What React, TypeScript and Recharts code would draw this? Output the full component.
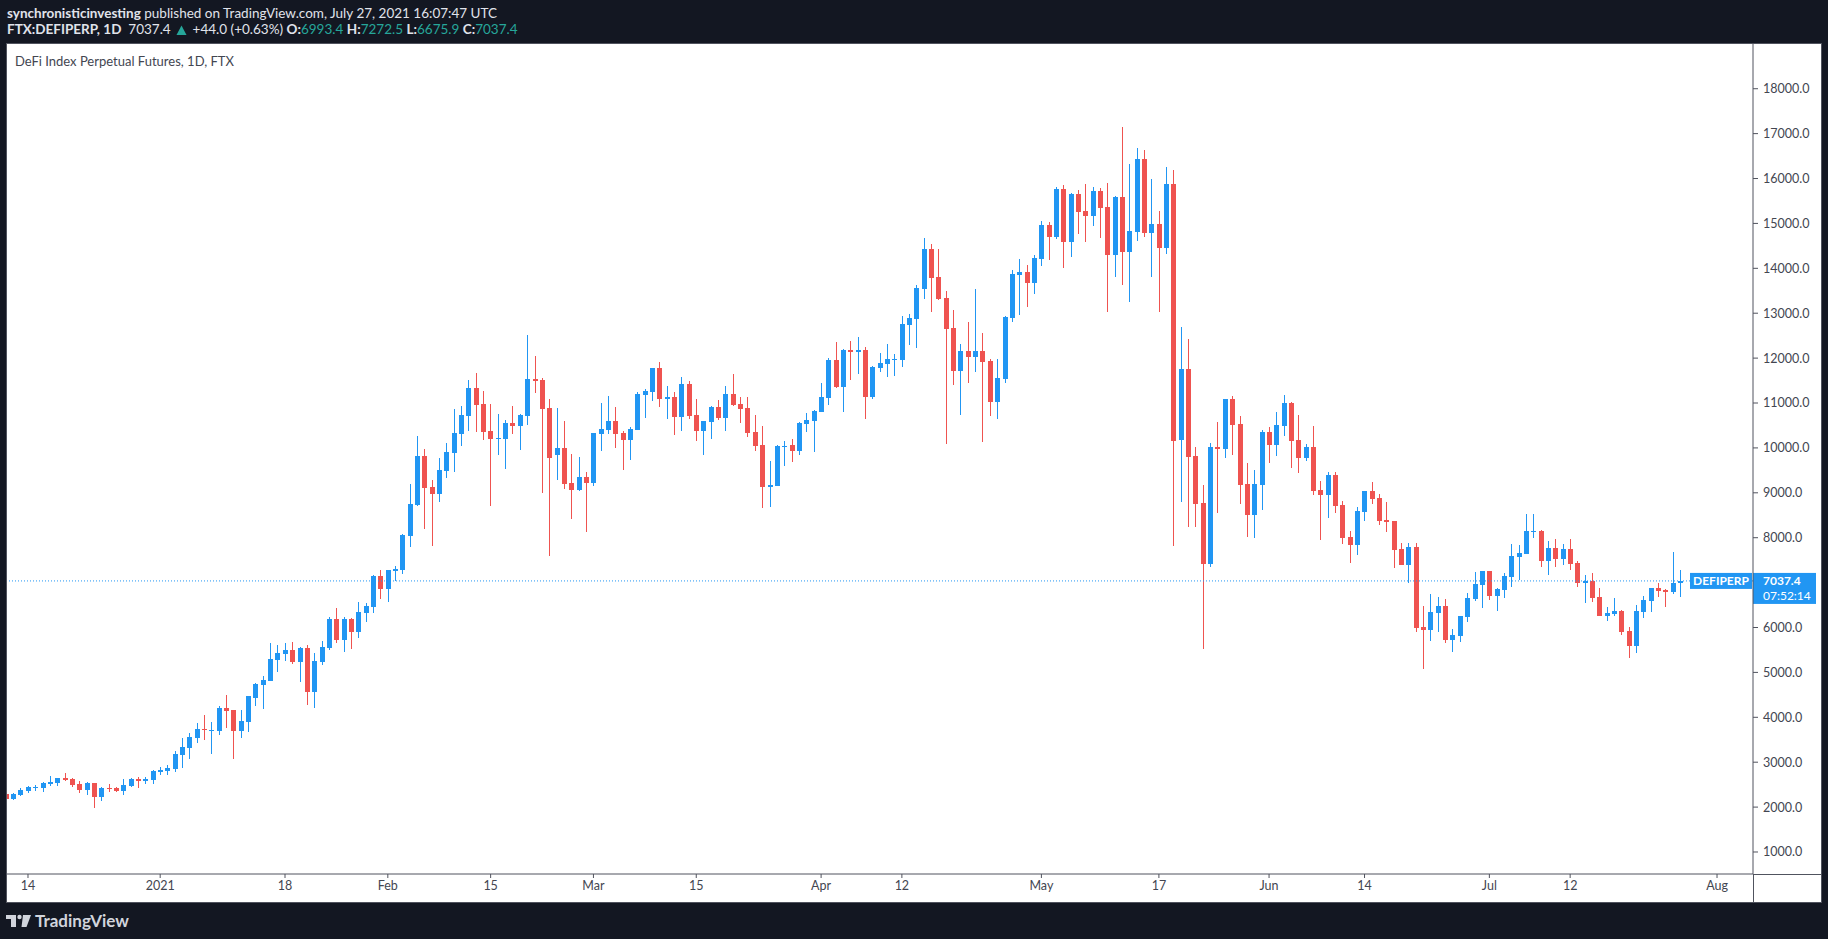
import React from "react";
import { ComposedChart, Bar, XAxis, YAxis, ReferenceLine } from "recharts";

// daily candles, first entry is Dec 11 2020, last is Jul 27 2021
const opens = [
  2290, 2188, 2269, 2358, 2425, 2425, 2521, 2544, 2648, 2626, 2514, 2380, 2536, 2225, 2425, 2425, 2358, 2470, 2626, 2581,
  2603, 2782, 2804, 2848, 3160, 3316, 3539, 3739, 3695, 3695, 4207, 4162, 3695, 3895, 4429, 4719, 4808, 5276, 5409, 5498,
  5231, 5543, 4563, 5231, 5543, 6189, 5721, 6189, 5899, 6323, 6456, 7147, 6857, 7258, 7280, 8037, 8727, 9819, 9128, 8972,
  9485, 9885, 10309, 10709, 11333, 10977, 10375, 10197, 10197, 10554, 10487, 10710, 11533, 11511, 10888, 9841, 9997, 9217, 9062, 9351,
  9217, 10309, 10398, 10598, 10331, 10175, 10398, 11177, 11244, 11778, 11088, 11133, 10687, 11422, 10732, 10375, 10576, 10910, 10665, 11199,
  10977, 10888, 10353, 10063, 9128, 9150, 10019, 10063, 9930, 10531, 10598, 10799, 11110, 11957, 11355, 12179, 12135, 12179, 11133, 11778,
  11868, 11957, 11957, 12736, 12870, 13538, 14429, 13805, 13337, 12669, 11712, 12157, 12024, 12157, 11934, 11021, 11534, 12892, 13850, 13917,
  13672, 14205, 14963, 14697, 15768, 14588, 15658, 15275, 15166, 15721, 15361, 14299, 15588, 14361, 14807, 16431, 14783, 14986, 14455, 15877,
  10175, 11760, 9823, 8777, 7418, 10019, 9980, 11089, 10534, 9198, 8503, 9175, 10355, 10066, 10488, 11003, 10175, 9774, 10019, 9061,
  8950, 9395, 8727, 8014, 7836, 8571, 9039, 8883, 8393, 8371, 7747, 7391, 7792, 6010, 5943, 6322, 6478, 5720, 5810, 6233,
  6634, 6945, 7257, 6700, 6834, 7124, 7569, 7636, 8126, 8148, 7480, 7777, 7532, 7748, 7443, 6998, 7035, 6679, 6263, 6300,
  6367, 5921, 5595, 6352, 6597, 6879, 6842, 6797, 6993.4,
];
const highs = [
  2320, 2314, 2418, 2469, 2492, 2559, 2692, 2655, 2759, 2648, 2581, 2559, 2545, 2447, 2514, 2447, 2626, 2648, 2670, 2670,
  2826, 2893, 2937, 3249, 3539, 3650, 3873, 4051, 3895, 4251, 4496, 4170, 4162, 4480, 4763, 4919, 5654, 5610, 5654, 5677,
  5565, 5610, 5432, 5699, 6234, 6434, 6234, 6211, 6568, 6545, 7160, 7280, 7290, 7369, 8080, 9195, 10264, 9975, 9284, 9774,
  10108, 10865, 10932, 11511, 11667, 11266, 10977, 10754, 10620, 10932, 10754, 12513, 12046, 11556, 11088, 10888, 10598, 9863, 9796, 9462,
  10340, 10999, 11155, 10910, 10375, 10465, 11244, 11311, 11790, 11912, 11378, 11244, 11578, 11489, 11088, 10600, 10932, 11066, 11378, 11645,
  11133, 11133, 10732, 10487, 9707, 10063, 10153, 10197, 10576, 10776, 10843, 11444, 12001, 12357, 12202, 12380, 12469, 12246, 11823, 12113,
  12313, 12090, 12937, 12981, 13627, 14674, 14540, 14429, 13493, 13070, 12313, 12803, 13538, 12558, 11979, 11979, 12937, 13961, 14206, 14073,
  14295, 15057, 15033, 15814, 15861, 15682, 15744, 15885, 15814, 15791, 15908, 15600, 17150, 16322, 16681, 16635, 15986, 15275, 16252, 16189,
  12690, 12424, 10019, 9175, 10112, 10581, 11100, 11159, 10714, 9667, 9511, 10401, 10464, 10800, 11183, 11026, 10732, 10086, 10487, 9262,
  9462, 9462, 8816, 8148, 8683, 9050, 9239, 8972, 8794, 8380, 7881, 7881, 7881, 6478, 6745, 6678, 6634, 5965, 6265, 6767,
  7235, 7265, 7265, 6879, 7213, 7858, 7836, 8527, 8527, 8170, 7933, 7978, 7866, 7978, 7480, 7168, 7220, 6879, 6456, 6656,
  6389, 6010, 6500, 6701, 6885, 6990, 6864, 7681, 7272.5,
];
const lows = [
  2170, 2165, 2247, 2321, 2358, 2336, 2469, 2469, 2581, 2455, 2314, 2269, 1980, 2135, 2336, 2336, 2269, 2447, 2425, 2514,
  2514, 2715, 2715, 2781, 2870, 3071, 3427, 3494, 3182, 3605, 3761, 3071, 3539, 3672, 4251, 4185, 4800, 5009, 5253, 5187,
  4786, 4274, 4207, 5164, 5498, 5654, 5454, 5521, 5766, 6122, 6323, 6634, 6568, 7035, 7190, 7792, 8705, 8193, 7814, 8794,
  9329, 9462, 10041, 10375, 10353, 10175, 8705, 9841, 9529, 10309, 9952, 10509, 11222, 8995, 7592, 9284, 9084, 8416, 9039, 8126,
  9150, 9930, 10309, 9997, 9507, 9730, 10390, 10665, 11066, 10910, 10643, 10286, 10375, 10643, 10153, 9841, 10197, 10620, 10375, 10932,
  10554, 10242, 9930, 8660, 8683, 9140, 9596, 9685, 9841, 10353, 9908, 10790, 10954, 11333, 10799, 11511, 11645, 10643, 11088, 11689,
  11578, 11600, 11801, 12291, 12224, 13315, 13026, 13293, 10086, 11400, 10732, 11444, 11689, 10130, 10709, 10643, 11444, 12803, 12959, 13137,
  13426, 14049, 14182, 14651, 14010, 14252, 14760, 14588, 14940, 14674, 13026, 13807, 13627, 13252, 14612, 14697, 13807, 13026, 14322, 7816,
  8792, 8238, 8238, 5520, 7347, 8558, 9777, 9839, 8753, 8019, 7995, 8620, 9667, 9823, 10269, 9558, 9440, 9707, 8950, 7947,
  8437, 8549, 7858, 7435, 7613, 8371, 8750, 8282, 8126, 7324, 7380, 6990, 5899, 5074, 5698, 5899, 5654, 5453, 5676, 6121,
  6589, 6433, 6611, 6366, 6656, 6901, 7057, 7630, 7992, 7346, 7176, 7354, 7391, 7287, 6909, 6552, 6575, 6255, 6152, 6263,
  5832, 5327, 5439, 6218, 6352, 6686, 6463, 6753, 6675.9,
];
const closes = [
  2190, 2291, 2380, 2447, 2447, 2536, 2566, 2648, 2603, 2492, 2380, 2536, 2225, 2425, 2403, 2358, 2492, 2626, 2581, 2626,
  2804, 2826, 2871, 3182, 3338, 3561, 3739, 3717, 3717, 4207, 4140, 3695, 3917, 4474, 4741, 4830, 5298, 5432, 5498, 5231,
  5543, 4563, 5253, 5565, 6189, 5721, 6189, 5899, 6345, 6478, 7147, 6857, 7280, 7303, 8059, 8750, 9819, 9106, 8972, 9507,
  9908, 10331, 10732, 11333, 10954, 10353, 10197, 10219, 10554, 10487, 10732, 11533, 11489, 10865, 9774, 9997, 9195, 9062, 9351, 9217,
  10331, 10420, 10598, 10309, 10175, 10420, 11199, 11266, 11778, 11088, 11133, 10687, 11422, 10710, 10375, 10598, 10910, 10665, 11199, 10954,
  10865, 10331, 10041, 9128, 9173, 10041, 10041, 9930, 10554, 10620, 10821, 11133, 11957, 11355, 12179, 12135, 12179, 11133, 11801, 11890,
  11979, 11979, 12758, 12892, 13560, 14429, 13783, 13315, 12647, 11712, 12157, 12024, 12157, 11912, 11021, 11556, 12914, 13872, 13917, 13672,
  14228, 14963, 14697, 15768, 14588, 15658, 15252, 15166, 15721, 15346, 14299, 15588, 14361, 14830, 16431, 14783, 14986, 14455, 15877, 10151,
  11760, 9800, 8753, 7418, 10019, 9980, 11089, 10511, 9175, 8503, 9198, 10355, 10066, 10511, 11003, 10159, 9774, 10019, 9039, 8950,
  9395, 8705, 7992, 7836, 8594, 9039, 8861, 8371, 8349, 7725, 7391, 7792, 5988, 5943, 6344, 6478, 5720, 5832, 6255, 6656,
  6968, 7257, 6700, 6856, 7146, 7591, 7658, 8148, 8148, 7480, 7777, 7532, 7748, 7421, 6998, 7035, 6664, 6263, 6322, 6367,
  5899, 5595, 6367, 6612, 6879, 6820, 6797, 6998, 7037.4,
];

// day index of each date label (Dec 11 2020 = 0)
const tickDays = [3, 21, 38, 52, 66, 80, 94, 111, 122, 141, 157, 172, 185, 202, 213, 233];
const tickLabels = ["14", "2021", "18", "Feb", "15", "Mar", "15", "Apr", "12", "May", "17", "Jun", "14", "Jul", "12", "Aug"];
const priceTicks = [1000, 2000, 3000, 4000, 5000, 6000, 8000, 9000, 10000, 11000, 12000, 13000, 14000, 15000, 16000, 17000, 18000];

const lastPrice = 7037.4;

const UP = "#2196F3";
const DOWN = "#EF5350";
const GREEN = "#26A69A";
const AXIS = "#50535E";
const FONT = "Lato, 'Liberation Sans', sans-serif";

const candles = opens.map((open, i) => ({
  day: i,
  open,
  high: highs[i],
  low: lows[i],
  close: closes[i],
  range: [lows[i], highs[i]],
}));

const Candle = (props: any) => {
  const { x, y, width, height, payload } = props;
  const { open, close, high, low } = payload;
  const color = close >= open ? UP : DOWN;
  const span = high - low || 1;
  const py = (p: number) => y + ((high - p) / span) * height;
  const cx = Math.round(x + width / 2);
  const top = Math.round(py(Math.max(open, close)));
  const bot = Math.round(py(Math.min(open, close)));
  return (
    <g>
      <rect x={cx} y={Math.round(y)} width={1} height={Math.max(1, Math.round(height))} fill={color} />
      <rect x={cx - 2} y={top} width={5} height={Math.max(1, bot - top)} fill={color} />
    </g>
  );
};

const PriceTag = (props: any) => {
  const { viewBox } = props;
  const right = viewBox.x + viewBox.width;
  const yy = viewBox.y;
  return (
    <g fontFamily={FONT} fontWeight={700} fontSize={12} fill="#fff">
      <rect x={right - 63} y={yy - 8} width={62} height={16} fill={UP} />
      <text x={right - 32} y={yy + 4} textAnchor="middle">DEFIPERP</text>
      <rect x={right} y={yy - 8} width={63} height={31} fill={UP} />
      <text x={right + 10} y={yy + 4}>{lastPrice.toFixed(1)}</text>
      <text x={right + 10} y={yy + 19} fontWeight={400}>07:52:14</text>
    </g>
  );
};

const Logo = () => (
  <svg width={130} height={24} style={{ position: "absolute", left: 5, top: 910 }}>
    <rect x={1} y={5} width={10} height={4} fill="#d1d4dc" />
    <rect x={6} y={5} width={5} height={12} fill="#d1d4dc" />
    <circle cx={14.5} cy={7} r={2.2} fill="#d1d4dc" />
    <polygon points="18,5 26,5 21.5,17 16.5,17" fill="#d1d4dc" />
    <text x={30} y={17} fontFamily={FONT} fontSize={17} fontWeight={700} fill="#d1d4dc">TradingView</text>
  </svg>
);

const UpArrow = () => (
  <svg width={11} height={10} style={{ verticalAlign: "-1px", margin: "0 2px" }}>
    <polygon points="0.5,10 5.5,0.5 10.5,10" fill={GREEN} />
  </svg>
);

export default function App() {
  const line: React.CSSProperties = { position: "absolute", left: 7, fontSize: 13.5, lineHeight: "16px", whiteSpace: "nowrap" };
  return (
    <div style={{ position: "absolute", left: 0, top: 0, width: 1828, height: 939, background: "#131722", fontFamily: FONT, color: "#e0e3eb", overflow: "hidden" }}>
      <div style={{ ...line, top: 5 }}>
        <b>synchronisticinvesting</b> published on TradingView.com, July 27, 2021 16:07:47 UTC
      </div>
      <div style={{ ...line, top: 21 }}>
        <b>FTX:DEFIPERP, 1D</b>&nbsp; 7037.4 <UpArrow /> +44.0 (+0.63%) <b>O:</b>
        <span style={{ color: GREEN }}>6993.4</span> <b>H:</b><span style={{ color: GREEN }}>7272.5</span> <b>L:</b>
        <span style={{ color: GREEN }}>6675.9</span> <b>C:</b><span style={{ color: GREEN }}>7037.4</span>
      </div>

      <div style={{ position: "absolute", left: 6, top: 43, width: 1816, height: 860, background: "#fff", border: `1px solid ${AXIS}`, boxSizing: "border-box" }} />
      <div style={{ position: "absolute", left: 7, top: 44 }}>
        <ComposedChart width={1814} height={858} data={candles} margin={{ top: 0, right: 0, bottom: 0, left: 0 }}>
          <XAxis
            type="number"
            dataKey="day"
            domain={[0.142, 237.9]}
            allowDataOverflow
            ticks={tickDays}
            tickFormatter={(v: number) => tickLabels[tickDays.indexOf(v)]}
            height={28}
            tickSize={4}
            tickMargin={3}
            axisLine={{ stroke: AXIS }}
            tickLine={{ stroke: AXIS }}
            tick={{ fill: "#434651", fontSize: 12.5, fontFamily: FONT }}
          />
          <YAxis
            orientation="right"
            width={68}
            domain={[510, 18996]}
            allowDataOverflow
            ticks={priceTicks}
            tickFormatter={(v: number) => v.toFixed(1)}
            tickSize={5}
            tickMargin={5}
            axisLine={{ stroke: AXIS }}
            tickLine={{ stroke: AXIS }}
            tick={{ fill: "#434651", fontSize: 12.5, fontFamily: FONT, textAnchor: "start" }}
          />
          <ReferenceLine y={lastPrice} stroke={UP} strokeDasharray="1 2" label={<PriceTag />} />
          <Bar dataKey="range" barSize={5} shape={<Candle />} isAnimationActive={false} />
        </ComposedChart>
      </div>
      <div style={{ position: "absolute", left: 1753, top: 874, width: 1, height: 28, background: AXIS }} />
      <div style={{ position: "absolute", left: 1753, top: 874, width: 68, height: 1, background: AXIS }} />
      <div style={{ position: "absolute", left: 15, top: 53, fontSize: 13, color: "#434651", whiteSpace: "nowrap" }}>
        DeFi Index Perpetual Futures, 1D, FTX
      </div>
      <Logo />
    </div>
  );
}
